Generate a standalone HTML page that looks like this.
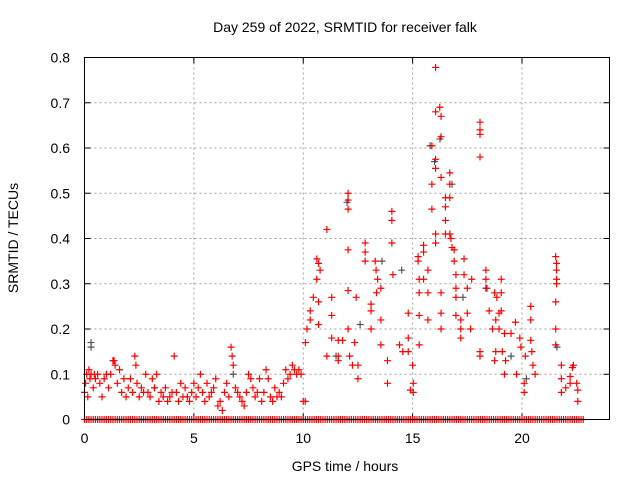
<!DOCTYPE html>
<html><head><meta charset="utf-8"><style>
body{margin:0;background:#fff;}
svg{display:block;font-family:"Liberation Sans",sans-serif;}
</style></head><body>
<svg id="chart" width="640" height="480" viewBox="0 0 640 480">
<rect width="640" height="480" fill="#fff"/>
<text x="345" y="32" font-size="14" text-anchor="middle">Day 259 of 2022, SRMTID for receiver falk</text>
<text x="345" y="471" font-size="14" text-anchor="middle">GPS time / hours</text>
<text x="0" y="0" font-size="14" text-anchor="middle" transform="translate(18,238) rotate(-90)">SRMTID / TECUs</text>
<g id="grid"></g>
<g id="ticks"></g>
<g id="marks"></g>
<rect x="84.5" y="57.5" width="525" height="362" fill="none" stroke="#000" stroke-width="1"/>
</svg>
<script>
const xTicks=[0,5,10,15,20];
const yTicks=[0,0.1,0.2,0.3,0.4,0.5,0.6,0.7,0.8];
const yTickLabels=["0","0.1","0.2","0.3","0.4","0.5","0.6","0.7","0.8"];
const redT=[0,.05,.1,.15,.2,.25,.3,.4,.45,.5,.6,.7,.8,.9,1,1.1,1.2,1.3,1.35,1.4,1.5,1.6,1.7,1.8,1.9,2,2.1,2.2,2.3,2.35,2.4,2.5,2.6,2.7,2.8,2.9,3,3.1,3.2,3.3,3.4,3.5,3.6,3.7,3.8,3.9,4,4.1,4.2,4.3,4.4,4.5,4.6,4.7,4.8,4.9,5,5.1,5.2,5.3,5.4,5.5,5.6,5.7,5.8,5.9,6,6.1,6.2,6.3,6.4,6.5,6.6,6.7,6.75,6.8,6.9,7,7.1,7.2,7.3,7.4,7.5,7.6,7.7,7.8,7.9,8,8.1,8.2,8.3,8.4,8.5,8.6,8.7,8.8,8.9,9,9.1,9.2,9.3,9.4,9.5,9.6,9.7,9.8,9.9,10,
10.09,10.17,10.1,10.32,10.32,10.46,10.62,10.62,10.7,10.77,11.08,10.7,10.7,11.08,11.3,11.3,11.3,11.6,11.6,11.6,11.8,12.05,12.05,12.05,12.05,12.05,12.05,12.12,12.25,12.35,12.42,12.5,12.5,12.83,12.83,12.83,13.1,13.1,13.1,13.29,13.33,13.4,13.35,13.55,13.55,13.55,13.85,13.85,14.05,14.05,14.05,14.1,14.4,14.55,14.8,14.8,14.8,15,15.03,15.03,14.9,15.25,15.25,15.3,15.3,15.3,15.3,15.5,15.5,15.5,15.7,15.7,15.7,15.88,15.88,15.88,16.05,16.05,16.24,16.3,16.3,16.05,16.05,16.3,16.05,16.05,16.3,16.3,16.3,16.5,16.5,16.5,16.5,16.7,16.7,16.7,16.7,16.75,16.8,16.9,16.9,16.98,16.98,16.98,16.98,17.2,17.2,17.2,17.35,17.35,17.5,17.5,17.65,17.7,18.08,18.08,18.08,18.08,18.08,18.08,18.35,18.35,18.35,18.5,18.65,18.8,18.85,18.8,18.75,18.75,18.95,18.95,19.05,19.05,19.05,19.1,19.2,19.25,19.2,19.5,19.7,19.75,19.9,19.95,20.1,20.1,20.15,20.4,20.4,20.4,20.45,20.5,20.6,21.54,21.58,21.58,21.58,21.58,21.54,21.54,21.54,21.8,21.8,21.8,22,22.2,22.3,22.35,22.5,22.55,22.55,22.2];
const redV=[.06,.08,.1,.05,.11,.09,.1,.07,.1,.09,.1,.08,.05,.09,.1,.07,.1,.13,.13,.12,.08,.11,.06,.09,.05,.07,.09,.06,.14,.12,.08,.05,.07,.06,.1,.06,.05,.09,.07,.1,.04,.06,.05,.07,.04,.05,.06,.14,.06,.04,.08,.05,.07,.05,.04,.06,.08,.05,.07,.1,.06,.04,.08,.05,.06,.07,.09,.03,.04,.02,.06,.08,.05,.16,.14,.12,.07,.06,.05,.04,.03,.06,.1,.09,.07,.05,.06,.09,.04,.06,.11,.09,.05,.04,.07,.05,.06,.05,.08,.11,.09,.1,.12,.11,.1,.11,.1,.04,
.04,.2,.17,.24,.22,.27,.31,.355,.345,.33,.42,.26,.21,.14,.27,.23,.18,.175,.14,.13,.175,.5,.485,.465,.375,.285,.2,.14,.12,.17,.27,.12,.09,.39,.37,.35,.255,.24,.2,.35,.33,.31,.28,.29,.22,.165,.13,.08,.46,.44,.39,.32,.165,.15,.235,.18,.15,.12,.08,.06,.065,.36,.35,.31,.28,.23,.165,.385,.37,.31,.33,.28,.22,.605,.52,.465,.778,.68,.69,.67,.625,.575,.555,.535,.41,.39,.28,.2,.235,.49,.47,.44,.41,.545,.52,.49,.41,.4,.38,.375,.35,.32,.29,.27,.23,.22,.2,.18,.355,.32,.29,.235,.2,.31,.657,.64,.63,.58,.15,.14,.33,.31,.29,.24,.2,.22,.27,.15,.28,.13,.235,.2,.31,.28,.24,.15,.19,.13,.1,.19,.215,.1,.18,.16,.08,.06,.14,.25,.22,.175,.15,.12,.1,.36,.345,.33,.31,.3,.26,.2,.165,.12,.09,.06,.07,.08,.115,.12,.08,.065,.04,.095];
const blackT=[.3,.3,3.2,6.8,11.5,12.0,12.6,13.6,14.5,15.8,16.0,16.25,16.8,17.3,18.4,19.5,20.2,21.6];
const blackV=[.17,.16,.07,.1,.14,.48,.21,.35,.33,.605,.57,.62,.52,.27,.29,.14,.09,.16];
const zeroT=[0,.1,.2,.3,.4,.5,.6,.7,.8,.9,1,1.1,1.2,1.3,1.4,1.5,1.6,1.7,1.8,1.9,2,2.1,2.2,2.3,2.4,2.5,2.6,2.7,2.8,2.9,3,3.1,3.2,3.3,3.4,3.5,3.6,3.7,3.8,3.9,4,4.1,4.2,4.3,4.4,4.5,4.6,4.7,4.8,4.9,5,5.1,5.2,5.3,5.4,5.5,5.6,5.7,5.8,5.9,6,6.1,6.2,6.3,6.4,6.5,6.6,6.7,6.8,6.9,7,7.1,7.2,7.3,7.4,7.5,7.6,7.7,7.8,7.9,8,8.1,8.2,8.3,8.4,8.5,8.6,8.7,8.8,8.9,9,9.1,9.2,9.3,9.4,9.5,9.6,9.7,9.8,9.9,10,10.1,10.2,10.3,10.4,10.5,10.6,10.7,10.8,10.9,11,11.1,11.2,11.3,11.4,11.5,11.6,11.7,11.8,11.9,12,12.1,12.2,12.3,12.4,12.5,12.6,12.7,12.8,12.9,13,13.1,13.2,13.3,13.4,13.5,13.6,13.7,13.8,13.9,14,14.1,14.2,14.3,14.4,14.5,14.6,14.7,14.8,14.9,15,15.1,15.2,15.3,15.4,15.5,15.6,15.7,15.8,15.9,16,16.1,16.2,16.3,16.4,16.5,16.6,16.7,16.8,16.9,17,17.1,17.2,17.3,17.4,17.5,17.6,17.7,17.8,17.9,18,18.1,18.2,18.3,18.4,18.5,18.6,18.7,18.8,18.9,19,19.1,19.2,19.3,19.4,19.5,19.6,19.7,19.8,19.9,20,20.1,20.2,20.3,20.4,20.5,20.6,20.7,20.8,20.9,21,21.1,21.2,21.3,21.4,21.5,21.6,21.7,21.8,21.9,22,22.1,22.2,22.3,22.4,22.5,22.6,22.7,22.8];

const X0=84.5,X1=609.5,Y0=419.5,Y1=57.5,XMAX=24,YMAX=0.8;
const xs=t=>X0+(t/XMAX)*(X1-X0);
const ys=v=>Y0-(v/YMAX)*(Y0-Y1);
const NS='http://www.w3.org/2000/svg';
function mk(tag,attrs,parent){const e=document.createElementNS(NS,tag);for(const k in attrs)e.setAttribute(k,attrs[k]);parent.appendChild(e);return e;}
const grid=document.getElementById('grid'),ticks=document.getElementById('ticks'),marks=document.getElementById('marks');
yTicks.forEach((v,i)=>{
  const y=ys(v);
  if(i>0&&i<yTicks.length-1){const g=mk('line',{x1:X0,x2:X1,y1:y,y2:y,stroke:'#a0a0a0','stroke-dasharray':'2,3'},grid);
  
  }
  const t1=mk('line',{x1:X0,x2:X0+6,y1:y,y2:y,stroke:'#000'},ticks);
  
  
  mk('line',{x1:X1-6,x2:X1,y1:y,y2:y,stroke:'#000'},ticks);
  const l=mk('text',{x:70,y:y+5,'font-size':14,'text-anchor':'end'},ticks);l.textContent=yTickLabels[i];
  
  
});
xTicks.forEach(t=>{
  const x=xs(t);
  if(t>0){const g=mk('line',{x1:x,x2:x,y1:Y0,y2:Y1,stroke:'#a0a0a0','stroke-dasharray':'2,3'},grid);
  
  }
  const t1=mk('line',{x1:x,x2:x,y1:Y0,y2:Y0-6,stroke:'#000'},ticks);
  
  
  mk('line',{x1:x,x2:x,y1:Y1,y2:Y1+6,stroke:'#000'},ticks);
  const l=mk('text',{x:x,y:443,'font-size':14,'text-anchor':'middle'},ticks);l.textContent=String(t);
  
  
});
function plus(t,v,col,name){
  const x=xs(t),y=ys(v);
  const p=mk('path',{d:`M${x-3.5},${y}H${x+3.5}M${x},${y-3.5}V${y+3.5}`,stroke:col,'stroke-width':1.2,fill:'none'},marks);
  
  
}
blackT.forEach((t,i)=>plus(t,blackV[i],'#555','point-black'));
redT.forEach((t,i)=>plus(t,redV[i],'#ff0000','point-red'));
zeroT.forEach(t=>plus(t,0,'#ff0000','point-zero'));
</script>
</body></html>
